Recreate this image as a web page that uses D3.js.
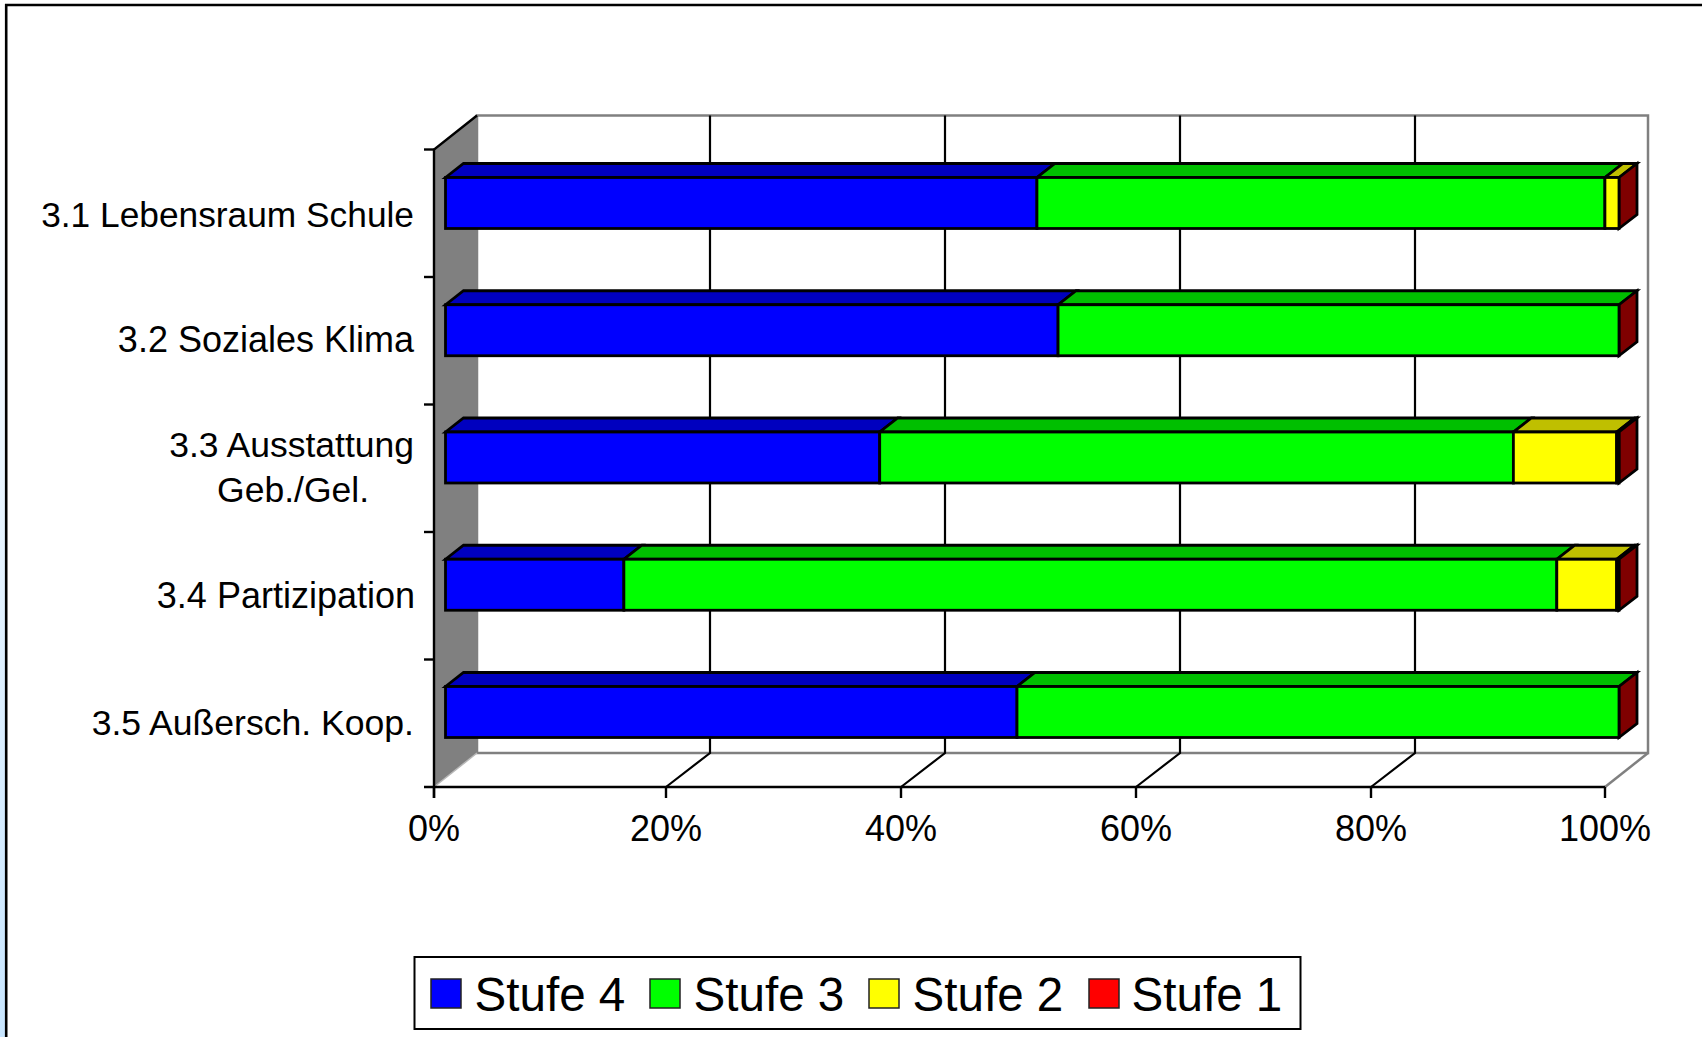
<!DOCTYPE html>
<html><head><meta charset="utf-8">
<script src="https://cdn.jsdelivr.net/npm/d3@7"></script>
<style>html,body{margin:0;padding:0;background:#fff;overflow:hidden}svg{display:block}text{font-family:"Liberation Sans",Arial,sans-serif;fill:#000}</style>
</head><body><svg id="c" width="1702" height="1037"></svg>
<script>
const categories = ["3.1 Lebensraum Schule","3.2 Soziales Klima","3.3 Ausstattung|Geb./Gel.","3.4 Partizipation","3.5 Außersch. Koop."];
const seriesNames = ["Stufe 4","Stufe 3","Stufe 2","Stufe 1"];
const stufe4 = [50.4,52.2,37.0,15.2,48.7];
const stufe3 = [48.4,47.8,54.0,79.5,51.3];
const stufe2 = [1.2,0,8.8,5.1,0];
const stufe1 = [0,0,0.2,0.2,0];
const seriesValues = [stufe4,stufe3,stufe2,stufe1];
const xTicks = [0,20,40,60,80,100];
const colors = ["#0000ff","#00ff00","#ffff00","#ff0000"];
const topColors = ["#0000bf","#00bf00","#bfbf00","#bf0000"];
const svg = d3.select("#c");
// page background strip and frame
const grad=svg.append("defs").append("linearGradient").attr("id","strip").attr("x1",0).attr("y1",0).attr("x2",0).attr("y2",1);
grad.append("stop").attr("offset",0.1).attr("stop-color","#ffffff");
grad.append("stop").attr("offset",1).attr("stop-color","#c8e6ff");
svg.append("rect").attr("x",0).attr("y",0).attr("width",5).attr("height",1037).attr("fill","url(#strip)");
svg.append("path").attr("d","M6.2,1037V5H1702").attr("fill","none").attr("stroke","#000").attr("stroke-width",2.6);
// geometry
const fx0=434,fx1=1605,fy0=149.5,fy1=787,dX=43,dY=-34,gridDX=44;
const xAxis=d3.scaleLinear().domain([0,20,80,100]).range([fx0,666,1371,fx1]);
const yBand=d3.scaleBand().domain(categories).range([fy0,fy1]);
const barX=d3.scaleLinear().domain([0,100]).range([445.5,1619]);
const barY=d3.scalePoint().domain(categories).range([177.5,686.5]);
const barH=51, bdX=18, bdY=-14;
const line=(p,s,w)=>svg.append("path").attr("d",d3.line()(p)).attr("fill","none").attr("stroke",s).attr("stroke-width",w);
// walls
svg.append("rect").attr("x",fx0+dX).attr("y",fy0+dY).attr("width",fx1-fx0).attr("height",fy1-fy0).attr("fill","#fff").attr("stroke","#808080").attr("stroke-width",2.5);
svg.append("path").attr("d",d3.line()([[fx0,fy0],[fx0+dX,fy0+dY],[fx0+dX,fy1+dY],[fx0,fy1]])+"Z").attr("fill","#808080");
line([[fx1,fy1],[fx1+dX,fy1+dY]],"#808080",2.5);
line([[fx0,fy1],[fx0+dX,fy1+dY]],"#b8b8b8",1.5);
// grid
xTicks.slice(1,-1).forEach(t=>{
  const x=xAxis(t);
  line([[x,fy1],[x+gridDX,fy1+dY],[x+gridDX,fy0+dY]],"#000",2.2);
});
// axes
line([[fx0+dX,fy0+dY],[fx0,fy0],[fx0,fy1+11]],"#000",2.4);
line([[fx0-10,fy1],[fx1,fy1]],"#000",2.4);
xTicks.forEach(t=>line([[xAxis(t),fy1],[xAxis(t),fy1+11]],"#000",2.4));
categories.forEach((c,i)=>line([[fx0-10,yBand(c)],[fx0,yBand(c)]],"#000",2.4));
// tick labels
svg.append("g").selectAll("text").data(xTicks).join("text").attr("x",d=>xAxis(d)).attr("y",841).attr("text-anchor","middle").attr("font-size",36).text(d=>d+"%");
const labelShift=[1.5,-1,0,0,0], labelSize=[35.3,36,35.5,36,35.6], labelRight=[414,414,414,415,414];
categories.forEach((c,i)=>{
  const parts=c.split("|"), cy=yBand(c)+yBand.bandwidth()/2+labelShift[i];
  if(parts.length===1){
    svg.append("text").attr("x",labelRight[i]).attr("y",cy+12).attr("text-anchor","end").attr("font-size",labelSize[i]).text(c);
  } else {
    svg.append("text").attr("x",labelRight[i]).attr("y",cy-11).attr("text-anchor","end").attr("font-size",labelSize[i]).text(parts[0]);
    svg.append("text").attr("x",369).attr("y",cy+34).attr("text-anchor","end").attr("font-size",labelSize[i]).text(parts[1]);
  }
});
// bars
const bs=2.8;
categories.forEach((c,i)=>{
  const y=barY(c); let acc=0;
  const g=svg.append("g").attr("stroke","#000").attr("stroke-width",bs).attr("stroke-linejoin","miter");
  seriesValues.forEach((vals,s)=>{
    const v=vals[i]; if(!v){return;}
    const a=barX(acc), b=barX(acc+v);
    g.append("path").attr("d",`M${a},${y}L${a+bdX},${y+bdY}L${b+bdX},${y+bdY}L${b},${y}Z`).attr("fill",topColors[s]);
    acc+=v;
  });
  const e=barX(100);
  g.append("path").attr("d",`M${e},${y}L${e+bdX},${y+bdY}L${e+bdX},${y+barH+bdY}L${e},${y+barH}Z`).attr("fill","#7f0000");
  acc=0;
  seriesValues.forEach((vals,s)=>{
    const v=vals[i]; if(!v){return;}
    g.append("rect").attr("x",barX(acc)).attr("y",y).attr("width",barX(acc+v)-barX(acc)).attr("height",barH).attr("fill",colors[s]);
    acc+=v;
  });
});
// legend
svg.append("rect").attr("x",414.5).attr("y",957).attr("width",886).attr("height",72).attr("fill","#fff").attr("stroke","#000").attr("stroke-width",2);
const legX=[431,650,869,1089], legT=[474.5,693.5,912.5,1131.5];
seriesNames.forEach((n,i)=>{
  svg.append("rect").attr("x",legX[i]).attr("y",979).attr("width",30).attr("height",29).attr("fill",colors[i]).attr("stroke","#222").attr("stroke-width",1.5);
  svg.append("text").attr("x",legT[i]).attr("y",1011).attr("font-size",47.6).text(n);
});
</script></body></html>
